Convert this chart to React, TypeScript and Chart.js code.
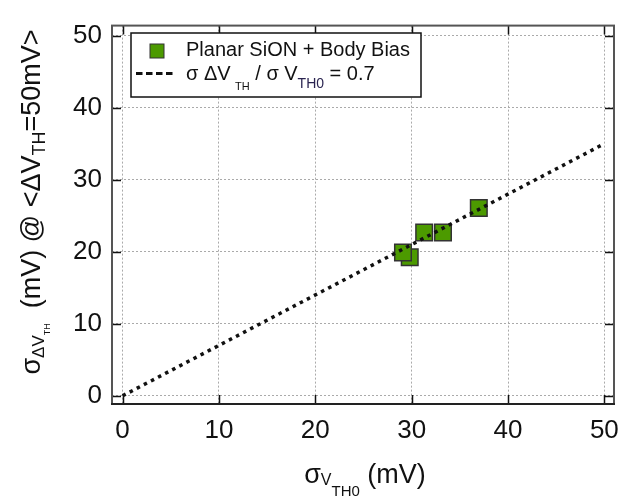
import React, { useEffect, useRef } from "react";
import { Chart, registerables } from "chart.js";

Chart.register(...registerables);

// ---- data ----
const fitX = [0, 50];
const fitY = [0, 35];
const pointX = [29.8, 29.1, 31.3, 33.25, 36.97];
const pointY = [19.25, 19.9, 22.66, 22.66, 26.08];
const xTicks = [0, 10, 20, 30, 40, 50];
const yTicks = [0, 10, 20, 30, 40, 50];
const seriesName = "Planar SiON + Body Bias";

const FONT = '"Liberation Sans", Arial, sans-serif';
const GREEN = "#4C9A00";

type Run = { t: string; size: number; dy: number; color?: string };

function drawRuns(
  ctx: CanvasRenderingContext2D,
  runs: Run[],
  x: number,
  y: number,
  align: "center" | "left",
  rotate: boolean
) {
  ctx.save();
  ctx.textBaseline = "alphabetic";
  ctx.textAlign = "left";
  const widths = runs.map((r) => {
    ctx.font = `${r.size}px ${FONT}`;
    return ctx.measureText(r.t).width;
  });
  const total = widths.reduce((a, b) => a + b, 0);
  ctx.translate(x, y);
  if (rotate) ctx.rotate(-Math.PI / 2);
  let cx = align === "center" ? -total / 2 : 0;
  runs.forEach((r, i) => {
    ctx.font = `${r.size}px ${FONT}`;
    ctx.fillStyle = r.color || "#111";
    ctx.fillText(r.t, cx, r.dy);
    cx += widths[i];
  });
  ctx.restore();
}

const decorPlugin = {
  id: "decor",
  afterDraw(chart: any) {
    const ctx: CanvasRenderingContext2D = chart.ctx;
    const { left, right, top, bottom } = chart.chartArea;
    const xs = chart.scales.x;
    const ys = chart.scales.y;

    // inner tick marks
    ctx.save();
    ctx.strokeStyle = "#111";
    ctx.lineWidth = 1.5;
    const tl = 9;
    xTicks.forEach((v) => {
      const px = Math.round(xs.getPixelForValue(v)) + 0.5;
      ctx.beginPath();
      ctx.moveTo(px, bottom);
      ctx.lineTo(px, bottom - tl);
      ctx.moveTo(px, top);
      ctx.lineTo(px, top + tl);
      ctx.stroke();
    });
    yTicks.forEach((v) => {
      const py = Math.round(ys.getPixelForValue(v)) + 0.5;
      ctx.beginPath();
      ctx.moveTo(left, py);
      ctx.lineTo(left + tl, py);
      ctx.moveTo(right, py);
      ctx.lineTo(right - tl, py);
      ctx.stroke();
    });
    ctx.restore();

    // frame
    ctx.save();
    ctx.strokeStyle = "#555";
    ctx.lineWidth = 2;
    ctx.strokeRect(left, top, right - left, bottom - top);
    ctx.strokeStyle = "#222";
    ctx.beginPath();
    ctx.moveTo(left - 1, bottom);
    ctx.lineTo(right + 1, bottom);
    ctx.stroke();
    ctx.restore();

    // legend box
    ctx.save();
    const lx = 131, ly = 33, lw = 290, lh = 64;
    ctx.fillStyle = "#fff";
    ctx.fillRect(lx, ly, lw, lh);
    ctx.strokeStyle = "#111";
    ctx.lineWidth = 1.5;
    ctx.strokeRect(lx, ly, lw, lh);
    // marker
    ctx.fillStyle = GREEN;
    ctx.fillRect(150, 44, 14, 14);
    ctx.strokeStyle = "#333";
    ctx.lineWidth = 1;
    ctx.strokeRect(150, 44, 14, 14);
    // dashed line sample
    ctx.strokeStyle = "#111";
    ctx.lineWidth = 3;
    ctx.setLineDash([6.5, 3.5]);
    ctx.beginPath();
    ctx.moveTo(136, 73.5);
    ctx.lineTo(176, 73.5);
    ctx.stroke();
    ctx.setLineDash([]);
    ctx.restore();

    drawRuns(ctx, [{ t: seriesName, size: 20, dy: 0 }], 186, 56, "left", false);
    drawRuns(
      ctx,
      [
        { t: "σ ΔV", size: 20, dy: 0 },
        { t: "  ", size: 8, dy: 0 },
        { t: "TH", size: 11, dy: 10 },
        { t: " / σ V", size: 20, dy: 0 },
        { t: "TH0", size: 14, dy: 8, color: "#2a2450" },
        { t: " = 0.7", size: 20, dy: 0 },
      ],
      186,
      80,
      "left",
      false
    );

    // x axis title
    drawRuns(
      ctx,
      [
        { t: "σ", size: 27, dy: 0 },
        { t: "V", size: 16, dy: 2 },
        { t: "TH0", size: 15, dy: 13 },
        { t: " (mV)", size: 27, dy: 0 },
      ],
      (left + right) / 2 + 2,
      483,
      "center",
      false
    );

    // y axis title
    drawRuns(
      ctx,
      [
        { t: "σ", size: 27, dy: 0 },
        { t: "ΔV", size: 17, dy: 4 },
        { t: "TH", size: 9, dy: 10 },
        { t: "  (mV) @ <ΔV", size: 27, dy: 0 },
        { t: "TH", size: 18, dy: 5 },
        { t: "=50mV>", size: 27, dy: 0 },
      ],
      40,
      202,
      "center",
      true
    );
  },
};

export default function App() {
  const ref = useRef<HTMLCanvasElement | null>(null);
  useEffect(() => {
    if (!ref.current) return;
    const tickFont = { family: FONT, size: 26 };
    const chart = new Chart(ref.current, {
      type: "scatter",
      data: {
        datasets: [
          {
            type: "line",
            label: "fit",
            data: fitX.map((x, i) => ({ x, y: fitY[i] })),
            borderColor: "#111",
            borderWidth: 3.5,
            borderDash: [3.5, 4.5],
            pointRadius: 0,
            fill: false,
            order: 0,
          } as any,
          {
            type: "scatter",
            label: seriesName,
            data: pointX.map((x, i) => ({ x, y: pointY[i] })),
            pointStyle: "rect",
            pointRadius: 11.7,
            backgroundColor: GREEN,
            borderColor: "#333",
            borderWidth: 1.5,
            order: 1,
          },
        ],
      },
      options: {
        responsive: false,
        animation: false,
        layout: { padding: { left: 0, right: 19, top: 8, bottom: 0 } },
        plugins: { legend: { display: false }, tooltip: { enabled: false } },
        scales: {
          x: {
            type: "linear",
            min: -1.1,
            max: 51,
            afterBuildTicks: (s: any) => {
              s.ticks = xTicks.map((v) => ({ value: v }));
            },
            afterFit: (s: any) => {
              s.height = 95;
            },
            ticks: { font: tickFont, color: "#111", padding: 11, maxRotation: 0 },
            grid: { color: "#aaa", lineWidth: 1, drawTicks: false },
            border: { display: false, dash: [2, 2] },
          },
          y: {
            type: "linear",
            min: -1.14,
            max: 51.4,
            afterBuildTicks: (s: any) => {
              s.ticks = yTicks.map((v) => ({ value: v }));
            },
            afterFit: (s: any) => {
              s.width = 112;
            },
            ticks: { font: tickFont, color: "#111", padding: 10 },
            grid: { color: "#aaa", lineWidth: 1, drawTicks: false },
            border: { display: false, dash: [2, 2] },
          },
        },
      },
      plugins: [decorPlugin],
    });
    return () => chart.destroy();
  }, []);
  return (
    <div style={{ position: "fixed", left: 0, top: 0, width: 633, height: 499, background: "#fff" }}>
      <canvas ref={ref} width={633} height={499} style={{ display: "block" }} />
    </div>
  );
}
